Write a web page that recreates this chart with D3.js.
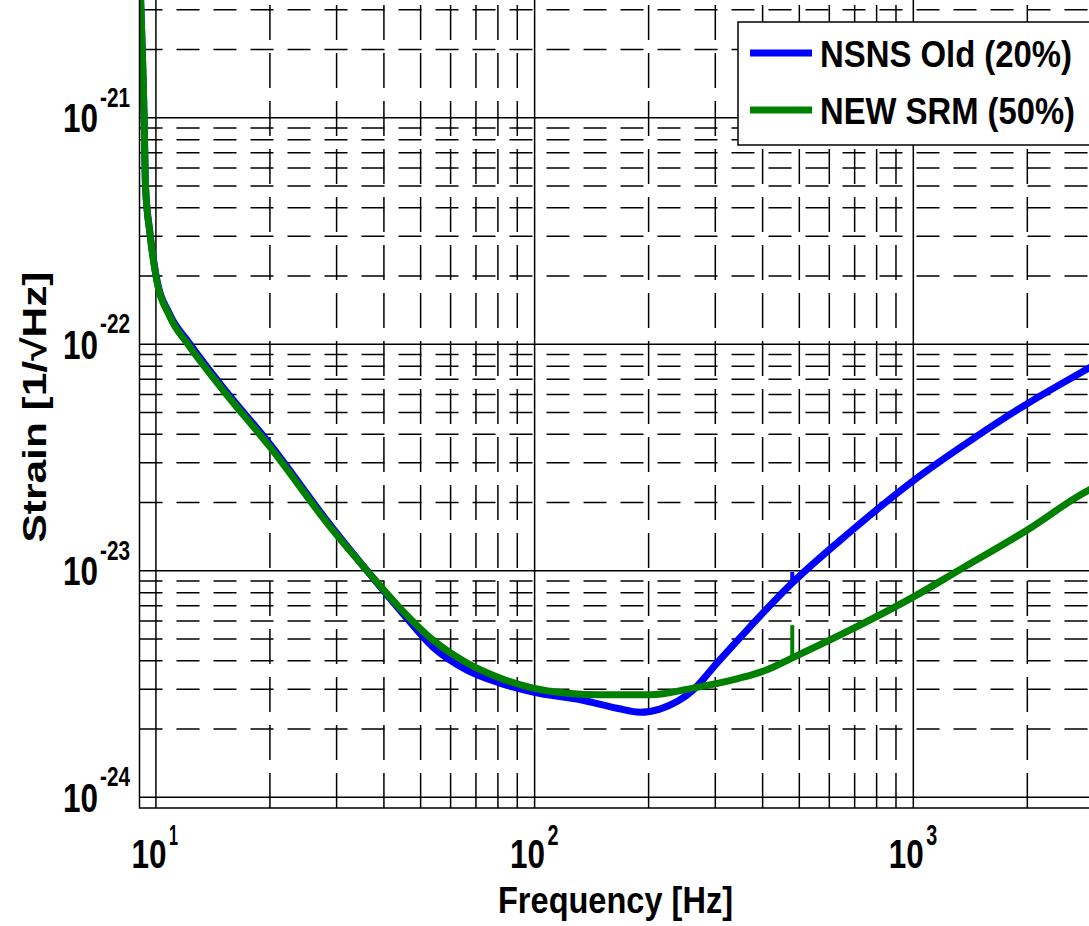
<!DOCTYPE html>
<html>
<head>
<meta charset="utf-8">
<script src="https://d3js.org/d3.v7.min.js"></script>
<style>
  body { margin: 0; background: #fff; }
  svg { display: block; }
</style>
</head>
<body>
<svg id="chart" width="1089" height="926"></svg>
<script>
// data (Hz, strain 1/sqrt(Hz))
var nsnsFreq = [9.05, 9.30, 9.39, 9.64, 10.0, 10.89, 12.15, 15.03, 20.0, 29.3, 36.1,
  44.1, 53.9, 66.3, 81.0, 99.0, 134, 165, 190, 214, 262, 303, 370, 464,
  680, 998, 1437, 1995, 2909, 3200];
var nsnsStrain = [4.5e-21, 1.05e-21, 4.94e-22, 3.12e-22, 2.03e-22, 1.35e-22, 1.03e-22, 6.45e-23,
  3.62e-23, 1.54e-23, 1.0e-23, 6.70e-24, 4.60e-24, 3.64e-24, 3.19e-24, 2.91e-24,
  2.68e-24, 2.47e-24, 2.37e-24, 2.45e-24, 2.97e-24, 3.91e-24, 5.64e-24, 8.39e-24,
  1.48e-23, 2.49e-23, 3.82e-23, 5.45e-23, 7.85e-23, 8.6e-23];

var srmFreq = [9.05, 9.30, 9.39, 9.64, 10.0, 10.89, 12.15, 15.03, 20.0, 29.3, 36.1,
  44.1, 53.9, 66.3, 81.0, 99.0, 121.7, 148.8, 201.6, 261.8, 342, 411, 472,
  680, 998, 1327, 1995, 2909, 3200];
var srmStrain = [4.5e-21, 1.05e-21, 4.94e-22, 3.10e-22, 2.0e-22, 1.32e-22, 1.0e-22, 6.28e-23,
  3.52e-23, 1.51e-23, 1.0e-23, 6.84e-24, 4.94e-24, 3.91e-24, 3.36e-24, 3.03e-24,
  2.88e-24, 2.83e-24, 2.83e-24, 3.03e-24, 3.33e-24, 3.65e-24, 4.07e-24,
  5.46e-24, 7.64e-24, 1.01e-23, 1.51e-23, 2.27e-23, 2.45e-23];

// narrow line near 480 Hz in each curve: frequency, value under it, peak value
var peakFreq = [479, 479];
var peakBase = [8.73e-24, 4.12e-24];
var peakTop = [9.87e-24, 5.75e-24];

var xTickValues = [10, 100, 1000];
var xTickExp = ['1', '2', '3'];
var yTickValues = [1e-21, 1e-22, 1e-23, 1e-24];
var yTickExp = ['-21', '-22', '-23', '-24'];

var seriesNames = ['NSNS Old (20%)', 'NEW SRM (50%)'];
var seriesColors = ['#0000ff', '#008000'];

var xDomain = [9.05, 3200];
var yDomain = [8.96e-25, 4.5e-21];

var svg;
var FONT = "'Liberation Sans', Arial, Helvetica, sans-serif";

document.addEventListener('DOMContentLoaded', function() {
  svg = d3.select('#chart');
  drawChart();
});

function label(g, str, x, y, size, width, anchor) {
  let t = g.append('text')
    .attr('x', x)
    .attr('y', y)
    .attr('font-family', FONT)
    .attr('font-weight', 'bold')
    .attr('font-size', size)
    .attr('fill', '#000')
    .attr('text-anchor', anchor || 'start')
    .text(str);
  if (width)
    t.attr('textLength', width).attr('lengthAdjust', 'spacingAndGlyphs');
  return t;
}

function drawChart() {
  // plot box: left and bottom edges, pixels per decade on each axis
  let left = 139.5, bottom = 808;
  let xDec = 378.7, yDec = 226.5;
  let right = left + xDec * Math.log10(xDomain[1] / xDomain[0]);
  let top = bottom - yDec * Math.log10(yDomain[1] / yDomain[0]);

  let x = d3.scaleLog().domain(xDomain).range([left, right]);
  let y = d3.scaleLog().domain(yDomain).range([bottom, top]);

  svg.append('rect').attr('width', 1089).attr('height', 926).attr('fill', '#fff');

  svg.append('defs').append('clipPath')
    .attr('id', 'plot-clip')
    .append('rect')
    .attr('x', left).attr('y', top)
    .attr('width', right - left).attr('height', bottom - top);

  // grid
  let grid = svg.append('g').attr('clip-path', 'url(#plot-clip)');

  let xMinor = [], xMajor = [];
  for (let d = 0; d <= 3; d++) {
    for (let m = 1; m <= 9; m++) {
      let v = m * Math.pow(10, d);
      if (v <= xDomain[0] || v >= xDomain[1]) continue;
      (m == 1 ? xMajor : xMinor).push(v);
    }
  }
  let yMinor = [], yMajor = [];
  for (let d = -25; d <= -21; d++) {
    for (let m = 1; m <= 9; m++) {
      let v = m * Math.pow(10, d);
      if (v <= yDomain[0] * 1.01 || v >= yDomain[1]) continue;
      (m == 1 ? yMajor : yMinor).push(v);
    }
  }

  grid.selectAll('.hminor').data(yMinor).enter().append('line')
    .attr('class', 'hminor')
    .attr('x1', left).attr('x2', right)
    .attr('y1', d => y(d)).attr('y2', d => y(d))
    .attr('stroke', '#000').attr('stroke-width', 1.5)
    .attr('stroke-dasharray', '23,14');

  grid.selectAll('.vminor').data(xMinor).enter().append('line')
    .attr('class', 'vminor')
    .attr('x1', d => x(d)).attr('x2', d => x(d))
    .attr('y1', bottom).attr('y2', top)
    .attr('stroke', '#000').attr('stroke-width', 1.5)
    .attr('stroke-dasharray', '35,13');

  grid.selectAll('.hmajor').data(yMajor).enter().append('line')
    .attr('class', 'hmajor')
    .attr('x1', left).attr('x2', right)
    .attr('y1', d => y(d)).attr('y2', d => y(d))
    .attr('stroke', '#000').attr('stroke-width', 1.5);

  grid.selectAll('.vmajor').data(xMajor).enter().append('line')
    .attr('class', 'vmajor')
    .attr('x1', d => x(d)).attr('x2', d => x(d))
    .attr('y1', bottom).attr('y2', top)
    .attr('stroke', '#000').attr('stroke-width', 1.5);

  // curves
  let series = [
    nsnsFreq.map((f, i) => ({ f: f, h: nsnsStrain[i] })),
    srmFreq.map((f, i) => ({ f: f, h: srmStrain[i] }))
  ];
  let line = d3.line()
    .x(d => x(d.f))
    .y(d => y(d.h))
    .curve(d3.curveMonotoneX);

  let curves = svg.append('g').attr('clip-path', 'url(#plot-clip)');
  curves.selectAll('path').data(series).enter().append('path')
    .attr('d', line)
    .attr('fill', 'none')
    .attr('stroke', (d, i) => seriesColors[i])
    .attr('stroke-width', 7)
    .attr('stroke-linejoin', 'round');

  curves.selectAll('.peak').data(peakFreq).enter().append('line')
    .attr('class', 'peak')
    .attr('x1', d => x(d)).attr('x2', d => x(d))
    .attr('y1', (d, i) => y(peakBase[i])).attr('y2', (d, i) => y(peakTop[i]))
    .attr('stroke', (d, i) => seriesColors[i])
    .attr('stroke-width', 4);

  // box
  svg.append('rect')
    .attr('x', left).attr('y', top)
    .attr('width', right - left).attr('height', bottom - top)
    .attr('fill', 'none').attr('stroke', '#000').attr('stroke-width', 1.5);

  // tick labels
  let ticks = svg.append('g');
  xTickValues.forEach((v, i) => {
    let px = x(v);
    label(ticks, '10', px + 10.5, 868, 41, 35, 'end');
    label(ticks, xTickExp[i], px + 13, 845, 30, i == 0 ? 9 : 11);
  });
  yTickValues.forEach((v, i) => {
    let py = y(v);
    label(ticks, '10', 98, py + 14.5, 41, 35, 'end');
    label(ticks, yTickExp[i], 100, py - 11, 28, 30);
  });

  // axis titles
  label(svg, 'Frequency [Hz]', 615.5, 913, 36, 235, 'middle');
  label(svg, 'Strain [1/\u221AHz]', 0, 0, 34, 271, 'middle')
    .attr('transform', 'translate(46,407) rotate(-90)');

  // legend
  let lg = svg.append('g');
  lg.append('rect')
    .attr('x', 738).attr('y', 22)
    .attr('width', 400).attr('height', 123)
    .attr('fill', '#fff').attr('stroke', '#000').attr('stroke-width', 1.5);
  let legendWidths = [252, 255];
  seriesNames.forEach((name, i) => {
    let ly = 53 + i * 57;
    lg.append('line')
      .attr('x1', 750).attr('x2', 812)
      .attr('y1', ly).attr('y2', ly)
      .attr('stroke', seriesColors[i]).attr('stroke-width', 7);
    label(lg, name, 820, ly + 14, 37, legendWidths[i]);
  });
}
</script>
</body>
</html>
